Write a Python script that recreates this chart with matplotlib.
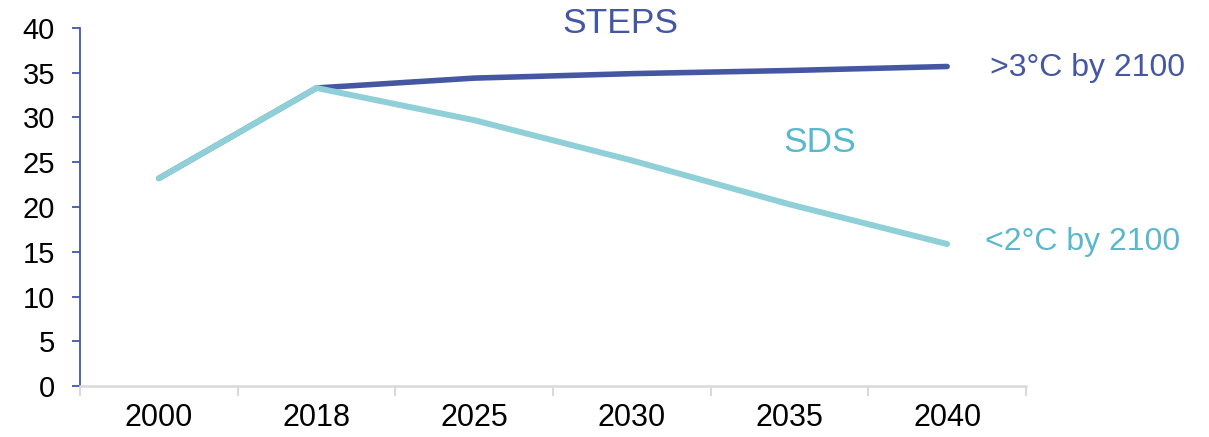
import matplotlib
matplotlib.use("Agg")
import matplotlib.pyplot as plt
import numpy as np

# ── data ───────────────────────────────────────────────────────────────────
years = ["2000", "2018", "2025", "2030", "2035", "2040"]
steps = [23.2, 33.3, 34.4, 34.9, 35.25, 35.7]
sds = [23.2, 33.3, 29.7, 25.2, 20.3, 15.86]

# ── colours ────────────────────────────────────────────────────────────────
C_STEPS = "#4557a3"
C_SDS_LINE = "#8fcfd8"
C_SDS_TEXT = "#5bb8cc"
C_GREY = "#d9d9d9"

plt.rcParams["font.family"] = ["Liberation Sans", "DejaVu Sans"]

fig = plt.figure(figsize=(12.09, 4.37), dpi=100)
ax = fig.add_axes([80 / 1209, 1 - 386 / 437, 946 / 1209, 358 / 437])

x = np.arange(len(years))
ax.plot(x, steps, color=C_STEPS, lw=4.0, solid_capstyle="round", zorder=3)
ax.plot(x, sds, color=C_SDS_LINE, lw=4.3, solid_capstyle="round", zorder=4)

ax.set_xlim(-0.5, len(years) - 0.5)
ax.set_ylim(0, 40)
ax.set_yticks(np.arange(0, 41, 5))

# category labels in the middle, ticks on the boundaries (Excel style)
ax.set_xticks(np.arange(-0.5, len(years), 1.0))
ax.set_xticklabels([])
ax.set_xticks(x, minor=True)
ax.set_xticklabels(years, minor=True)
ax.tick_params(axis="x", which="major", direction="out", length=7,
               width=1.5, color=C_GREY)
ax.tick_params(axis="x", which="minor", length=0, pad=12, labelsize=22)
ax.tick_params(axis="y", direction="out", length=6, width=1.3,
               color=C_STEPS, pad=12, labelsize=21)

for side in ("top", "right"):
    ax.spines[side].set_visible(False)
ax.spines["left"].set_color(C_STEPS)
ax.spines["left"].set_linewidth(1.3)
ax.spines["bottom"].set_color(C_GREY)
ax.spines["bottom"].set_linewidth(1.8)

# scenario labels
ax.text(2.925, 39.44, "STEPS", color=C_STEPS, fontsize=25.5,
        ha="center", va="baseline", clip_on=False)
ax.text(4.19, 26.2, "SDS", color=C_SDS_TEXT, fontsize=25.5,
        ha="center", va="baseline", clip_on=False)
ax.text(5.27, 34.66, ">3°C by 2100", color=C_STEPS, fontsize=23,
        ha="left", va="baseline", clip_on=False)
ax.text(5.24, 15.19, "<2°C by 2100", color=C_SDS_TEXT, fontsize=23,
        ha="left", va="baseline", clip_on=False)

fig.savefig("out.png", dpi=100)
